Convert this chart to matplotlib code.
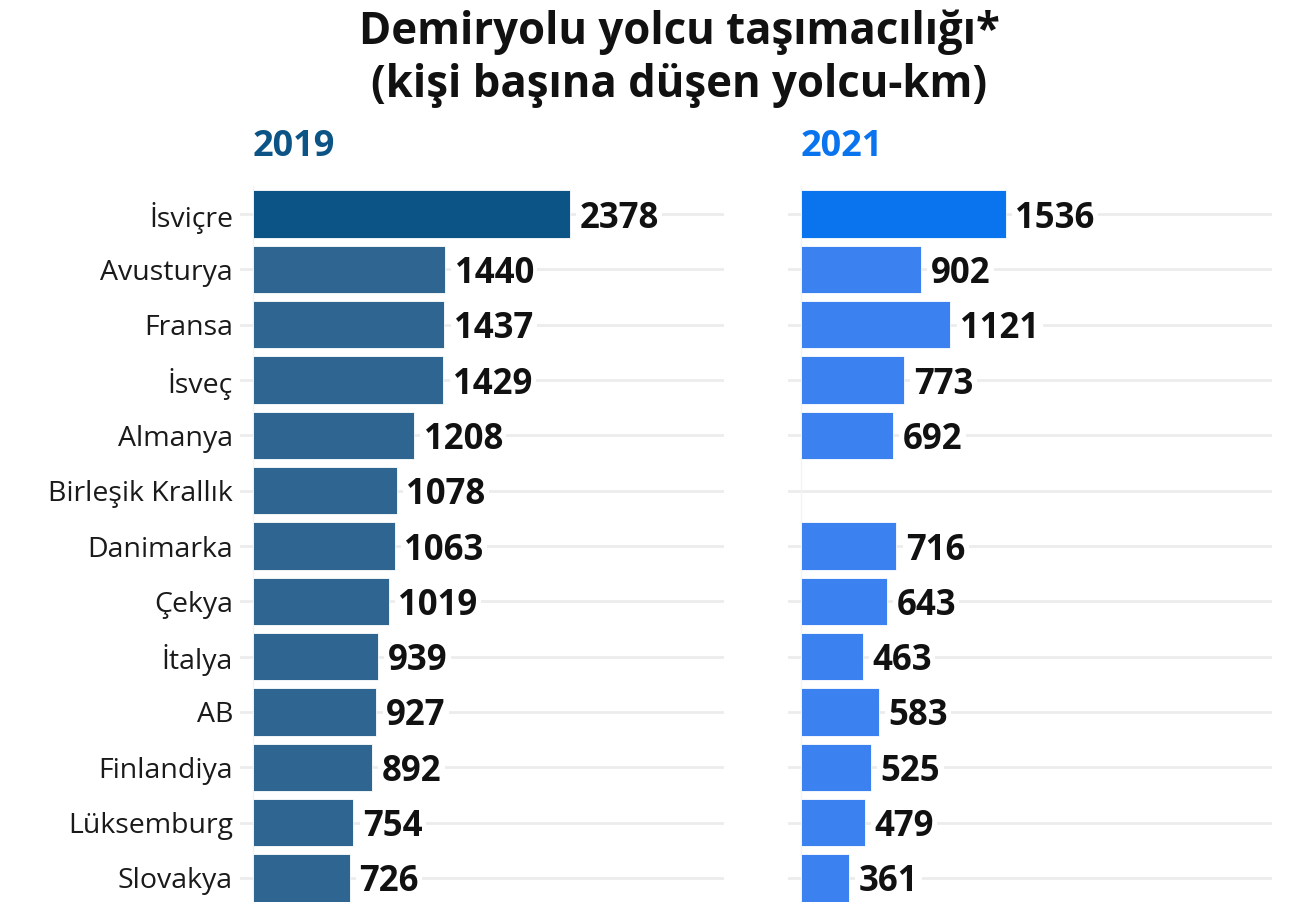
import numpy as np
import matplotlib.pyplot as plt

plt.rcParams['font.family'] = ['Open Sans', 'DejaVu Sans']

countries = ['İsviçre', 'Avusturya', 'Fransa', 'İsveç', 'Almanya', 'Birleşik Krallık',
             'Danimarka', 'Çekya', 'İtalya', 'AB', 'Finlandiya', 'Lüksemburg', 'Slovakya']
values_2019 = [2378, 1440, 1437, 1429, 1208, 1078, 1063, 1019, 939, 927, 892, 754, 726]
values_2021 = [1536, 902, 1121, 773, 692, np.nan, 716, 643, 463, 583, 525, 479, 361]

W, H = 1296, 902
fig = plt.figure(figsize=(W / 100, H / 100), dpi=100)

# title
fig.text(679 / W, 1 - 32 / H, 'Demiryolu yolcu taşımacılığı*', ha='center', va='center',
         fontsize=31.5, fontweight='bold', color='#111111')
fig.text(679 / W, 1 - 86 / H, '(kişi başına düşen yolcu-km)', ha='center', va='center',
         fontsize=31.5, fontweight='bold', color='#111111')

row = 55.33
top_px = 214 - row / 2
y_bottom = 12 + (H - 878) / row


def panel(left_px, vals, year, col_top, col_rest, show_labels):
    ax = fig.add_axes([left_px / W, 0, 484 / W, (H - top_px) / H])
    y = np.arange(len(countries))
    for yy in y:
        ax.axhline(yy, color='#ececec', lw=2, zorder=0)
    ax.axvline(0, color='#f3f3f3', lw=1, zorder=0)
    v = np.array(vals, dtype=float)
    ok = ~np.isnan(v)
    cols = np.array([col_top] + [col_rest] * (len(countries) - 1))
    ax.barh(y[ok], v[ok], height=0.85, color=cols[ok], edgecolor='#ffffff',
            linewidth=0.6, zorder=2)
    for yy, val in zip(y[ok], v[ok]):
        ax.annotate(f'{int(val)}', (val, yy), xytext=(7, 0), textcoords='offset points',
                    ha='left', va='center_baseline', fontsize=25, fontweight='bold',
                    color='#111111', zorder=3,
                    bbox=dict(boxstyle='square,pad=0.1', fc='white', ec='none'))
    ax.set_xlim(-97.6, 3536)
    ax.set_ylim(y_bottom, -0.5)
    for s in ax.spines.values():
        s.set_visible(False)
    ax.set_xticks([])
    ax.set_yticks(y)
    if show_labels:
        ax.set_yticklabels(countries, fontsize=20.5, color='#1a1a1a')
    else:
        ax.set_yticklabels([])
    ax.tick_params(axis='y', length=0, pad=5)
    fig.text((left_px + 13) / W, 1 - 147 / H, year, ha='left', va='center',
             fontsize=26, fontweight='bold', color=col_top)
    return ax


panel(240, values_2019, '2019', '#0b5485', '#2e6591', True)
panel(788, values_2021, '2021', '#0a73ee', '#3b82f0', False)

fig.savefig('out.png', dpi=100)
